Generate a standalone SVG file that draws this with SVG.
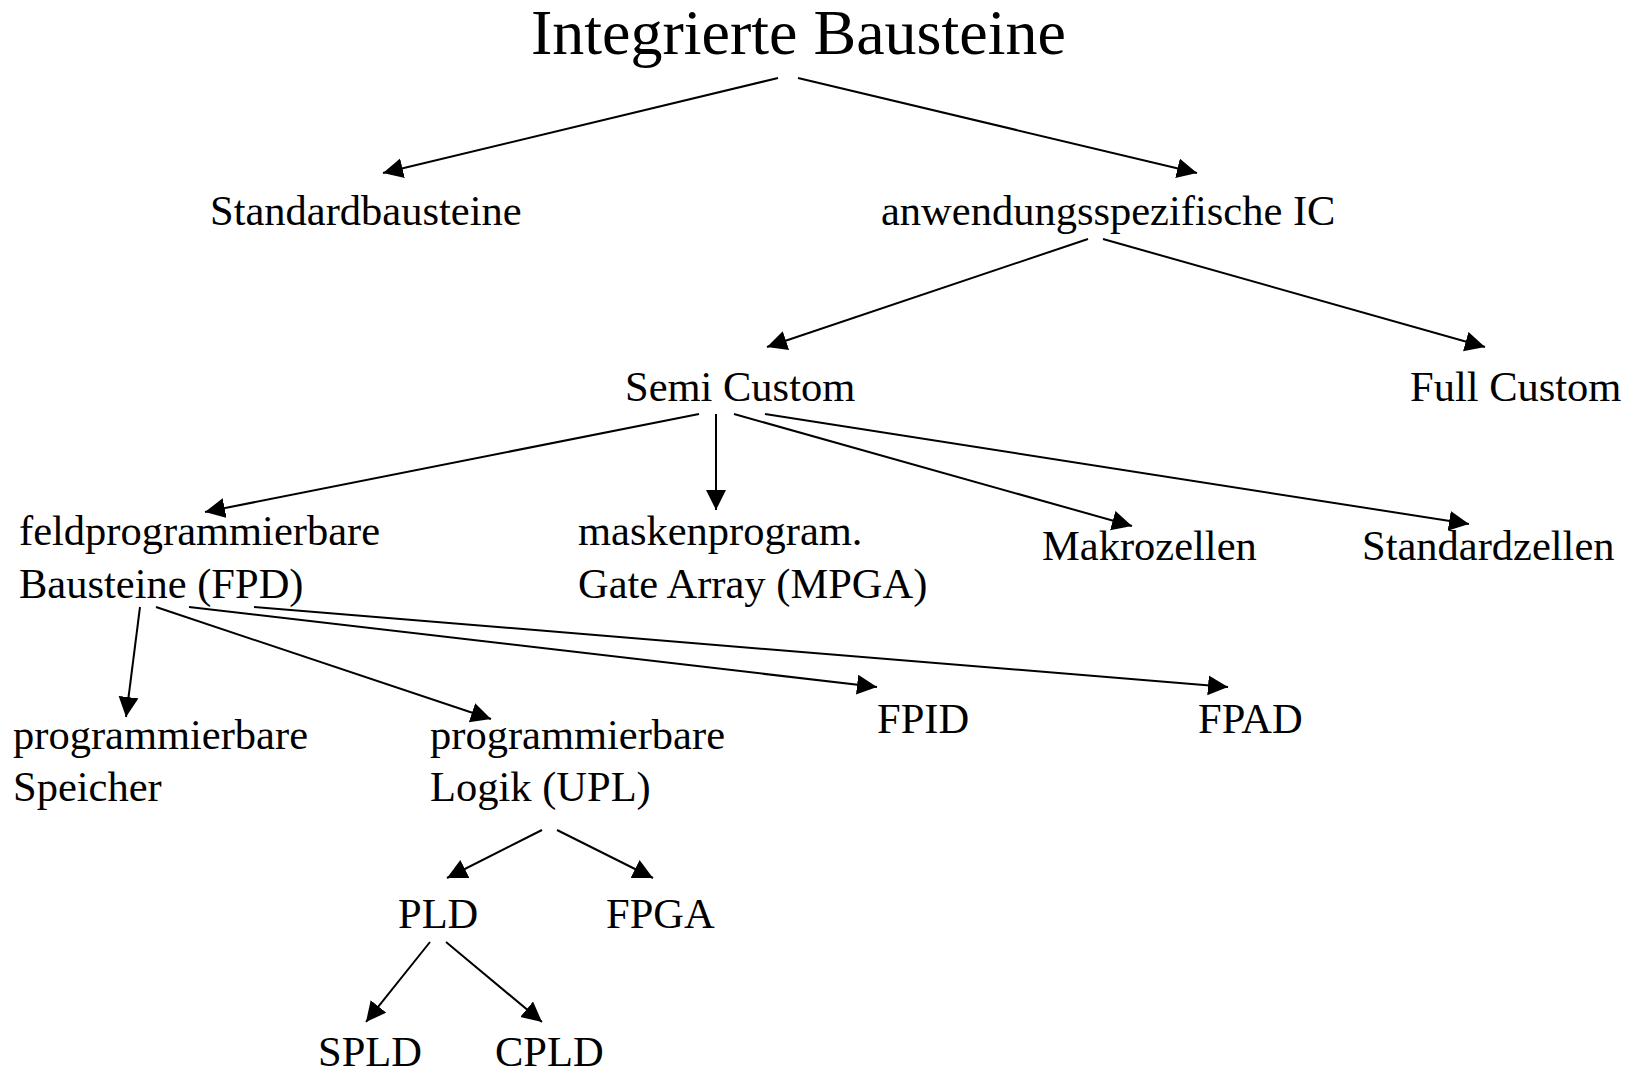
<svg xmlns="http://www.w3.org/2000/svg" width="1632" height="1076" viewBox="0 0 1632 1076">
<style>
text{font-family:"Liberation Serif","Times New Roman",serif;font-size:42.5px;fill:#000}
.title{font-size:64px}
.c line{stroke:#000;stroke-width:2;marker-end:url(#ah)}
</style>
<defs>
<marker id="ah" markerUnits="userSpaceOnUse" markerWidth="22" markerHeight="22" refX="20" refY="10" orient="auto" viewBox="0 0 22 22">
<path d="M0,0 L20,10 L0,20 z" fill="#000"/>
</marker>
</defs>
<rect width="1632" height="1076" fill="#fff"/>
<g id="connectors" class="c">
<line x1="778" y1="78" x2="383" y2="173"/>
<line x1="798" y1="78" x2="1197" y2="173"/>
<line x1="1088" y1="239" x2="767" y2="347"/>
<line x1="1103" y1="239" x2="1485" y2="347"/>
<line x1="699" y1="414" x2="205" y2="512"/>
<line x1="716" y1="414" x2="716" y2="510"/>
<line x1="734" y1="414" x2="1132" y2="526"/>
<line x1="765" y1="414" x2="1469" y2="524"/>
<line x1="140" y1="607" x2="126" y2="717"/>
<line x1="156" y1="607" x2="491" y2="719"/>
<line x1="189" y1="607" x2="877" y2="687"/>
<line x1="254" y1="607" x2="1228" y2="687"/>
<line x1="542" y1="830" x2="447" y2="878"/>
<line x1="557" y1="830" x2="653" y2="878"/>
<line x1="430" y1="942" x2="366" y2="1022"/>
<line x1="446" y1="942" x2="542" y2="1022"/>
</g>
<g id="n-root"><text class="title" x="531" y="54">Integrierte Bausteine</text></g>
<g id="n-standard"><text x="210" y="225">Standardbausteine</text></g>
<g id="n-asic"><text x="881" y="225">anwendungsspezifische IC</text></g>
<g id="n-semi"><text x="625" y="401">Semi Custom</text></g>
<g id="n-full"><text x="1410" y="401">Full Custom</text></g>
<g id="n-fpd"><text x="19" y="545">feldprogrammierbare</text><text x="19" y="598">Bausteine (FPD)</text></g>
<g id="n-mpga"><text x="578" y="545">maskenprogram.</text><text x="578" y="598">Gate Array (MPGA)</text></g>
<g id="n-makro"><text x="1042" y="560">Makrozellen</text></g>
<g id="n-stdz"><text x="1362" y="560">Standardzellen</text></g>
<g id="n-speicher"><text x="13" y="749">programmierbare</text><text x="13" y="801">Speicher</text></g>
<g id="n-logik"><text x="430" y="749">programmierbare</text><text x="430" y="801">Logik (UPL)</text></g>
<g id="n-fpid"><text x="877" y="733">FPID</text></g>
<g id="n-fpad"><text x="1198" y="733">FPAD</text></g>
<g id="n-pld"><text x="398" y="928">PLD</text></g>
<g id="n-fpga"><text x="606" y="928">FPGA</text></g>
<g id="n-spld"><text x="318" y="1066">SPLD</text></g>
<g id="n-cpld"><text x="495" y="1066">CPLD</text></g>
</svg>
